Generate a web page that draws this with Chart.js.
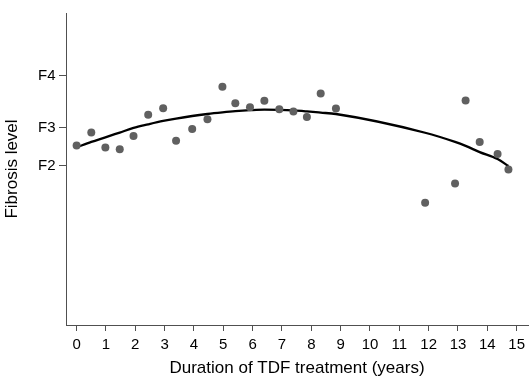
<!DOCTYPE html>
<html>
<head>
<meta charset="utf-8">
<script src="https://cdn.jsdelivr.net/npm/chart.js@4"></script>
<style>
  html, body { margin: 0; padding: 0; background: #fff; }
  #wrap { width: 532px; height: 381px; position: relative; }
</style>
</head>
<body>
<div id="wrap"><canvas id="chart"></canvas></div>
<script>
// observed points: years on TDF vs fibrosis (stiffness-like scale)
const years = [0, 0.5, 0.98, 1.47, 1.94, 2.44, 2.95, 3.39, 3.94, 4.46, 4.97, 5.41, 5.91, 6.4, 6.91, 7.39, 7.85, 8.32, 8.84, 11.88, 12.9, 13.26, 13.74, 14.35, 14.72];
const fibrosis = [9.01, 9.66, 8.91, 8.82, 9.49, 10.55, 10.88, 9.25, 9.84, 10.33, 11.96, 11.13, 10.93, 11.26, 10.83, 10.71, 10.44, 11.62, 10.87, 6.14, 7.1, 11.27, 9.18, 8.58, 7.81];
// fitted trend, one value per observed year
const fitted = [8.92, 9.19, 9.42, 9.66, 9.89, 10.07, 10.24, 10.36, 10.49, 10.59, 10.67, 10.73, 10.78, 10.81, 10.80, 10.77, 10.72, 10.66, 10.59, 9.65, 9.19, 8.99, 8.68, 8.33, 7.98];

const xTicks = [0, 1, 2, 3, 4, 5, 6, 7, 8, 9, 10, 11, 12, 13, 14, 15];
const yTicks = [8, 9.9, 12.5];
const yTickLabels = ['F2', 'F3', 'F4'];

const FONT = "'Liberation Sans', Arial, sans-serif";
const AXIS = '#505050';

new Chart(document.getElementById('chart'), {
  type: 'scatter',
  data: {
    datasets: [
      {
        label: 'Observed',
        data: years.map((x, i) => ({ x, y: fibrosis[i] })),
        backgroundColor: '#606060',
        borderColor: '#606060',
        pointRadius: 4,
        borderWidth: 0,
      },
      {
        label: 'Trend',
        type: 'line',
        data: years.map((x, i) => ({ x, y: fitted[i] })),
        borderColor: '#000',
        borderWidth: 2.3,
        pointRadius: 0,
        cubicInterpolationMode: 'monotone',
        fill: false,
      },
    ],
  },
  options: {
    responsive: true,
    maintainAspectRatio: false,
    animation: false,
    layout: { padding: { top: 13, left: 0, right: 0, bottom: 0 } },
    plugins: {
      legend: { display: false },
      tooltip: { enabled: false },
    },
    scales: {
      x: {
        type: 'linear',
        min: -0.362,
        max: 15.387,
        afterBuildTicks: s => { s.ticks = xTicks.map(v => ({ value: v })); },
        afterFit: s => { s.height = 56; },
        ticks: {
          color: '#000',
          font: { family: FONT, size: 15 },
          padding: 5,
          maxRotation: 0,
          autoSkip: false,
        },
        grid: { drawOnChartArea: false, drawTicks: true, tickLength: 6, color: AXIS, lineWidth: 1 },
        border: { color: AXIS, width: 1 },
        title: {
          display: true,
          text: 'Duration of TDF treatment (years)',
          color: '#000',
          font: { family: FONT, size: 17 },
          padding: { top: 0, bottom: 2.8 },
        },
      },
      y: {
        type: 'linear',
        min: 0,
        max: 15.66,
        afterBuildTicks: s => { s.ticks = yTicks.map(v => ({ value: v })); },
        afterFit: s => { s.width = 66; },
        ticks: {
          color: '#000',
          font: { family: FONT, size: 15, lineHeight: 1.1 },
          padding: 3.5,
          callback: v => yTickLabels[yTicks.indexOf(v)] ?? '',
        },
        grid: { drawOnChartArea: false, drawTicks: true, tickLength: 7, color: AXIS, lineWidth: 1 },
        border: { color: AXIS, width: 1 },
        title: {
          display: true,
          text: 'Fibrosis level',
          color: '#000',
          font: { family: FONT, size: 17 },
          padding: { top: 2.5, bottom: 0 },
        },
      },
    },
  },
});
</script>
</body>
</html>
